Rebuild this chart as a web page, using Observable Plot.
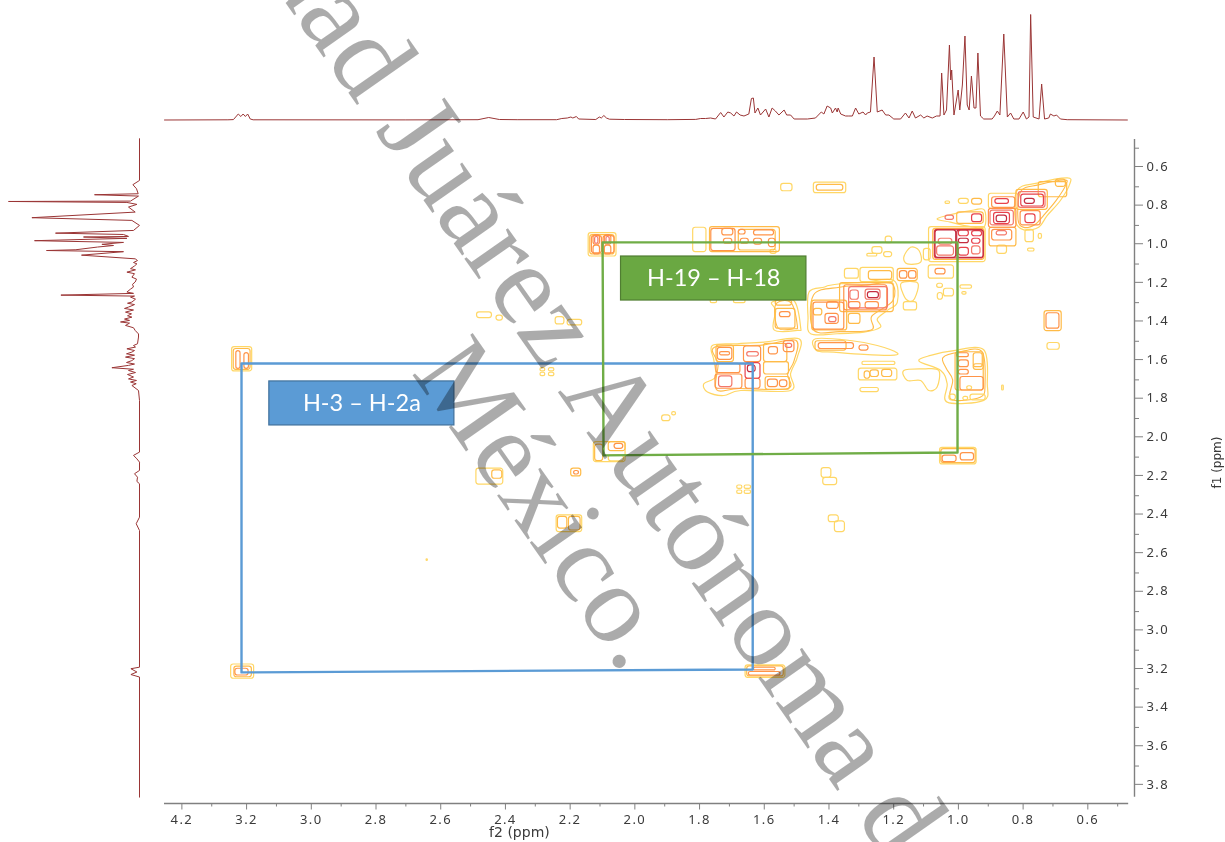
<!DOCTYPE html>
<html><head><meta charset="utf-8">
<script src="https://cdn.jsdelivr.net/npm/d3@7"></script>
<script src="https://cdn.jsdelivr.net/npm/@observablehq/plot@0.6"></script>
<style>
html,body{margin:0;padding:0;background:#fff;overflow:hidden}
#chart{position:relative;width:1225px;height:842px}
#chart svg{position:absolute;left:0;top:0;filter:blur(.35px)}
g[aria-label$="tick label"] text{letter-spacing:1.4px}
</style></head><body><div id="chart"></div>
<script>
// Axis domains (ppm)
const f2Domain=[3.446,0.448], f1Domain=[0.455,3.894];
const f2TickValues=[3.4,3.2,3.0,2.8,2.6,2.4,2.2,2.0,1.8,1.6,1.4,1.2,1.0,0.8,0.6];
const f2TickLabels=["4.2","3.2","3.0","2.8","2.6","2.4","2.2","2.0","1.8","1.6","1.4","1.2","1.0","0.8","0.6"];
const f2MinorTicks=[3.3,3.1,2.9,2.7,2.5,2.3,2.1,1.9,1.7,1.5,1.3,1.1,0.9,0.7,0.5];
const f1TickValues=[0.6,0.8,1.0,1.2,1.4,1.6,1.8,2.0,2.2,2.4,2.6,2.8,3.0,3.2,3.4,3.6,3.8];
const f1MinorTicks=[0.5,0.7,0.9,1.1,1.3,1.5,1.7,1.9,2.1,2.3,2.5,2.7,2.9,3.1,3.3,3.5,3.7];

// Horizontal 1H projection: [ppm, intensity]
const f2Spectrum=[[3.446,0],[3.25,0.2],[3.233,0.4],[3.218,6],[3.21,3.5],[3.203,6],[3.196,3.5],[3.189,6],[3.181,1],[3.172,0.2],[2.7,0.1],[2.477,0.3],[2.444,2.5],[2.411,0.5],[2.356,0.3],[2.234,0.3],[2.218,1.5],[2.201,2],[2.19,3],[2.184,2],[2.173,3.5],[2.166,1],[2.113,0.5],[2.102,3],[2.096,2],[2.088,4.5],[2.08,2],[2.071,0.8],[2.024,0.5],[1.892,0.3],[1.804,0.6],[1.789,1.5],[1.774,1.5],[1.758,2],[1.743,1],[1.727,7.5],[1.717,3],[1.705,8],[1.696,7],[1.686,4],[1.678,8],[1.667,5],[1.655,4],[1.64,6],[1.632,21.5],[1.626,22],[1.621,7],[1.612,12],[1.604,5],[1.588,11],[1.578,3],[1.568,12],[1.558,9],[1.547,5],[1.531,10],[1.523,5],[1.511,5],[1.5,1],[1.459,1],[1.434,2],[1.416,8],[1.408,6],[1.398,14],[1.387,12],[1.382,7],[1.372,12],[1.367,8],[1.364,12],[1.356,6],[1.341,4],[1.331,4],[1.32,4],[1.31,12],[1.3,6],[1.287,8],[1.279,5],[1.274,7],[1.264,8],[1.253,63],[1.243,8],[1.228,10],[1.217,5],[1.207,5],[1.192,1],[1.171,1],[1.156,7],[1.145,2],[1.135,9],[1.125,2],[1.109,5],[1.099,2],[1.089,4],[1.073,2],[1.06,4],[1.049,4],[1.044,47],[1.037,5],[1.029,10],[1.02,75],[1.016,40],[1.013,50],[1.006,5],[0.993,30],[0.988,10],[0.98,35],[0.972,84],[0.965,15],[0.959,10],[0.952,44],[0.944,12],[0.938,12],[0.932,67],[0.924,4],[0.914,1],[0.888,1],[0.881,4],[0.872,9],[0.864,5],[0.852,86],[0.841,3],[0.831,7],[0.821,1],[0.805,1],[0.792,8],[0.782,1],[0.774,3],[0.769,105.5],[0.761,3],[0.743,1],[0.735,36],[0.726,1],[0.713,2],[0.708,6],[0.697,4],[0.689,5],[0.677,1],[0.656,0.3],[0.47,0]];

// Vertical 1H projection: [ppm, intensity]
const f1Spectrum=[[0.451,0],[0.667,0],[0.689,6.6],[0.71,3],[0.736,1.3],[0.741,45],[0.748,1],[0.774,9],[0.776,131],[0.781,12.6],[0.791,2.6],[0.805,11],[0.831,4.3],[0.86,107.6],[0.874,7.6],[0.9,0],[0.926,6],[0.94,84],[0.947,16],[0.957,11],[0.96,56],[0.967,12.6],[0.979,105],[0.988,16],[0.998,37.6],[1.004,26],[1.012,42],[1.026,63.6],[1.03,93],[1.036,16],[1.054,58],[1.073,4.3],[1.082,2],[1.092,6],[1.099,2.6],[1.11,5],[1.124,9],[1.13,4],[1.142,12.6],[1.15,5],[1.168,7.6],[1.178,3],[1.193,4.3],[1.205,7],[1.219,6],[1.23,9],[1.245,12.6],[1.252,6],[1.261,78.6],[1.266,5],[1.271,9],[1.282,4],[1.297,7.6],[1.303,12],[1.31,5],[1.323,11],[1.33,15],[1.338,6],[1.349,14],[1.358,8],[1.368,12],[1.375,7.6],[1.385,15],[1.392,10],[1.4,19],[1.406,10],[1.418,14],[1.43,6],[1.444,4.3],[1.462,1],[1.478,1],[1.513,2],[1.522,6],[1.53,4],[1.539,12.6],[1.548,5],[1.556,7.6],[1.565,13],[1.572,5],[1.582,14],[1.59,5],[1.6,7.6],[1.61,13],[1.618,5],[1.625,11],[1.637,27.6],[1.645,6],[1.651,11],[1.662,4],[1.672,12],[1.685,6],[1.695,11],[1.703,3],[1.711,9],[1.72,3.3],[1.729,7.6],[1.755,1],[1.807,0],[2.074,0],[2.091,6],[2.109,2.6],[2.126,0],[2.169,0],[2.186,5],[2.204,2],[2.226,2.6],[2.238,0],[2.411,0],[2.445,3.3],[2.48,0],[3.188,0],[3.196,8.6],[3.213,2.6],[3.226,8.6],[3.239,0],[3.861,0]];

// Contour outlines: closed polygons, [ppm f2, ppm f1]
const yellowOutlines=[
[[.811,.719],[.749,.681],[.656,.654],[.648,.685],[.677,.771],[.718,.849],[.744,.909],[.79,.923],[.816,.875]],
[[1.058,.866],[1.006,.84],[.944,.82],[.912,.82],[.912,.906],[.955,.906],[1.017,.883]],
[[1.454,1.245],[1.408,1.22],[1.393,1.211],[1.356,1.202],[1.284,1.194],[1.192,1.185],[1.181,1.297],[1.212,1.34],[1.243,1.384],[1.233,1.427],[1.284,1.453],[1.367,1.461],[1.449,1.461],[1.457,1.375]],
[[1.434,1.487],[1.326,1.496],[1.243,1.522],[1.181,1.561],[1.202,1.573],[1.284,1.568],[1.377,1.556],[1.431,1.548]],
[[1.161,1.651],[1.099,1.643],[1.053,1.651],[1.058,1.737],[1.084,1.755],[1.109,1.703],[1.15,1.703]],
[[1.078,1.573],[1.006,1.548],[.914,1.544],[.903,1.72],[.914,1.806],[1.027,1.815],[1.027,1.72],[1.047,1.651],[1.114,1.603]],
[[1.753,1.522],[1.676,1.513],[1.593,1.504],[1.485,1.487],[1.49,1.582],[1.511,1.668],[1.511,1.755],[1.665,1.755],[1.717,1.781],[1.768,1.763],[1.779,1.72],[1.743,1.685],[1.748,1.599]],
[[1.568,1.297],[1.501,1.289],[1.48,1.427],[1.49,1.444],[1.562,1.441],[1.557,1.341]],
[[1.169,1.199],[1.118,1.199],[1.128,1.28],[1.145,1.292],[1.161,1.263]],
[[1.161,1.064],[1.14,1.013],[1.114,1.03],[1.109,1.09],[1.15,1.099]]
];
const amberOutlines=[
[[1.44,1.26],[1.36,1.22],[1.28,1.21],[1.2,1.2],[1.195,1.29],[1.26,1.37],[1.26,1.44],[1.36,1.45],[1.44,1.44]],
[[1.745,1.53],[1.6,1.52],[1.495,1.495],[1.5,1.6],[1.52,1.67],[1.52,1.745],[1.67,1.745],[1.74,1.75],[1.735,1.62]],
[[.8,.725],[.745,.69],[.665,.665],[.66,.69],[.69,.77],[.73,.85],[.755,.895],[.79,.91],[.808,.87]],
[[1.04,1.585],[.99,1.556],[.92,1.552],[.91,1.72],[.925,1.79],[1.015,1.8],[1.01,1.7],[1.03,1.64]],
[[1.557,1.31],[1.51,1.3],[1.49,1.42],[1.5,1.435],[1.55,1.43]]
];

// Contour boxes per level: [f2 left, f2 right, f1 top, f1 bottom]
const yellowBoxes=[
[1.54,1.505,.685,.723],[1.439,1.339,.678,.733],[1.083,.908,.909,1.09],[.872,.842,1.004,1.047],[.898,.806,.736,.814],
[.991,.96,.762,.788],[.785,.759,.923,.987],[.777,.757,1.02,1.035],[.744,.734,.944,.97],[1.032,1.018,.776,.788],
[1.343,1.3,1.125,1.176],[1.295,1.192,1.12,1.194],[1.084,1.006,1.107,1.176],[1.161,1.12,1.297,1.34],[1.058,1.04,1.202,1.223],[1.037,1.006,1.228,1.268],[.986,.95,1.211,1.228],[1.056,1.04,1.25,1.285],[.98,.967,1.245,1.258],
[1.217,1.197,.958,.992],[1.258,1.227,1.012,1.047],[1.222,1.197,1.038,1.064],[1.274,1.243,1.047,1.061],[1.099,1.078,1.021,1.081],
[1.289,1.187,1.606,1.623],[1.3,1.181,1.642,1.703],[1.295,1.238,1.742,1.763],[.965,.95,1.733,1.752],
[.977,.962,1.788,1.806],[1.02,1.0,1.776,1.806],[.955,.908,1.776,1.806],
[1.812,1.771,.912,1.038],[1.573,1.554,1.026,1.047],[1.758,1.738,1.285,1.302],[1.686,1.65,1.285,1.302],
[.717,.679,1.509,1.544],[1.049,.936,2.052,2.138],[.857,.852,1.729,1.755],
[2.48,2.434,1.35,1.38],[2.42,2.40,1.367,1.393],[2.237,2.21,1.375,1.413],[2.20,2.155,1.389,1.418],
[2.284,2.269,1.639,1.656],[2.258,2.241,1.639,1.656],[2.284,2.269,1.663,1.681],[2.258,2.241,1.663,1.681],
[1.908,1.882,1.884,1.914],[1.877,1.865,1.867,1.884],[2.119,2.021,2.022,2.126],[2.073,2.026,2.091,2.122],
[2.482,2.399,2.16,2.242],[2.234,2.155,2.402,2.488],[1.676,1.66,2.247,2.264],[1.653,1.633,2.247,2.264],[1.676,1.66,2.273,2.29],[1.653,1.633,2.273,2.29],
[1.415,1.385,2.157,2.207],[1.41,1.367,2.207,2.245],[1.393,1.362,2.402,2.437],[1.374,1.343,2.433,2.488],
[3.24,3.169,3.174,3.248],[3.237,3.175,1.53,1.656],[1.65,1.527,3.179,3.243],[2.636,2.632,2.63,2.637],[2.135,2.049,.94,1.061]
];
const amberBoxes=[
[1.43,1.348,.69,.72],[1.07,.912,.918,1.078],[.896,.813,.912,1.009],[.813,.716,.716,.819],[.744,.656,.676,.754],[.691,.66,.663,.7],[.95,.919,.762,.792],[.996,.914,.832,.892],
[1.18,1.118,1.125,1.188],[1.269,1.197,1.137,1.182],[1.358,1.192,1.199,1.349],[1.444,1.336,1.289,1.444],[1.331,1.295,1.358,1.41],[1.439,1.413,1.332,1.366],[1.557,1.496,1.332,1.435],[1.557,1.506,1.289,1.315],
[1.434,1.338,1.5,1.548],[1.282,1.265,1.656,1.694],[1.264,1.238,1.651,1.685],[1.228,1.197,1.648,1.685],
[1.001,.914,1.557,1.755],[.945,.914,1.619,1.648],[.945,.917,1.562,1.634],
[1.74,1.686,1.522,1.608],[1.593,1.521,1.513,1.608],[1.593,1.516,1.608,1.672],[1.588,1.513,1.685,1.751],
[1.76,1.544,.909,1.038],[1.671,1.557,.923,1.03],[.726,.673,1.344,1.447],
[1.045,.939,2.059,2.131],[2.433,2.402,2.169,2.212],[2.189,2.158,2.16,2.2],[2.23,2.201,2.41,2.47],[2.196,2.16,2.41,2.48],[2.073,2.021,2.022,2.069],[2.115,2.09,2.035,2.12],
[3.23,3.176,3.185,3.24],[3.232,3.18,1.54,1.648],[1.645,1.532,3.184,3.236],[2.13,2.055,.95,1.05]
];
const orangeBoxes=[
[.898,.813,.814,.912],[.888,.826,.923,.978],[.888,.816,.754,.809],[.8,.738,.826,.9],[1.173,1.15,1.137,1.176],[1.145,1.122,1.137,1.176],[1.063,1.032,1.125,1.154],
[1.345,1.212,1.21,1.34],[1.403,1.362,1.358,1.41],[1.398,1.362,1.297,1.332],[1.331,1.295,1.297,1.332],[1.279,1.238,1.297,1.332],[1.544,1.511,1.349,1.375],[1.44,1.345,1.3,1.44],
[1.424,1.315,1.51,1.54],[1.298,1.27,1.522,1.548],
[.996,.96,1.562,1.582],[.991,.96,1.599,1.634],[.991,.96,1.648,1.672],[.986,.914,1.685,1.755],
[1.736,1.691,1.534,1.596],[1.729,1.698,1.556,1.573],[1.655,1.602,1.527,1.608],[1.532,1.499,1.499,1.556],[1.578,1.55,1.53,1.568],
[1.74,1.666,1.617,1.665],[1.743,1.66,1.672,1.746],[1.581,1.55,1.699,1.737],[1.544,1.521,1.703,1.737],[1.65,1.604,1.694,1.746],
[1.756,1.681,.918,1.033],[1.722,1.688,.918,.952],[1.717,1.691,.969,.995],[1.671,1.65,.923,.947],[1.624,1.562,.926,.952],[1.665,1.64,.969,.995],[1.624,1.599,.969,.999],[1.578,1.557,.969,1.012],
[.72,.68,1.355,1.435],[1.041,.998,2.092,2.126],[.985,.944,2.079,2.117],[2.055,2.028,2.031,2.057],[2.18,2.165,2.172,2.19],
[3.227,3.186,3.196,3.231],[3.224,3.211,1.551,1.643],[3.199,3.185,1.561,1.643],[1.64,1.542,3.213,3.231],[1.624,1.557,3.191,3.205],[2.125,2.094,.955,1.045],[2.089,2.055,.955,1.045],
[2.12,2.10,.95,1.0],[2.12,2.1,1.005,1.05],[2.085,2.065,.95,1.0],[2.085,2.065,1.005,1.05]
];
const salmonBoxes=[
[1.058,1.006,1.009,1.056],[1.053,1.011,.969,.999],[.95,.924,1.009,1.05],[.893,.821,.823,.9],[.874,.842,.93,.952],[.806,.723,.728,.809],[1.032,1.006,.849,.871],
[1.326,1.30,1.237,1.285],[1.392,1.369,1.375,1.401],[1.279,1.233,1.233,1.285],[1.33,1.21,1.22,1.33],
[1.645,1.609,1.556,1.579],[1.526,1.506,1.513,1.534],[1.732,1.691,1.682,1.737],[2.115,2.105,.96,.995],[2.08,2.07,.96,.995]
];
const redBoxes=[
[1.065,.914,.923,1.071],[.991,.96,.926,.956],[.95,.919,.93,.956],[.95,.924,.969,.995],[.991,.96,1.016,1.056],
[.878,.836,.764,.788],[.798,.728,.74,.802],[.785,.754,.843,.888],[.95,.919,.843,.883],[.882,.833,.835,.893],[1.65,1.604,1.613,1.694]
];
const darkBoxes=[
[1.063,.999,.926,1.068],[.996,.914,.926,1.068],[.991,.96,.969,.992],[.874,.842,.849,.883],[.787,.756,.762,.788],[1.272,1.238,1.245,1.277],[1.643,1.619,1.625,1.66]
];
const levels=[["#ffd766",yellowBoxes],["#ffbb48",amberBoxes],["#ff9448",orangeBoxes],["#f4786a",salmonBoxes],["#e8424c",redBoxes],["#c42c40",darkBoxes]];
const contourBoxes=levels.flatMap(([color,boxes])=>boxes.map(b=>({color,b})));

// Annotated correlation paths and their label boxes
const bluePath=[[3.208,1.615],[1.628,1.615],[1.628,3.2],[3.208,3.215],[3.208,1.615]];
const greenPath=[[2.092,.988],[.995,.988],[.995,2.076],[2.089,2.091],[2.092,.988]];
const labels=[
 {text:"H-3 – H-2a",x1:3.122,x2:2.55,y1:1.708,y2:1.936,fill:"#5b9bd5",stroke:"#41719c"},
 {text:"H-19 – H-18",x1:2.035,x2:1.462,y1:1.061,y2:1.289,fill:"#6aa842",stroke:"#507e32"}
];
const watermark=[
 {text:"Universidad Juárez Autónoma de",x:2.392,y:1.04,size:116},
 {text:"México.",x:2.266,y:2.34,size:112}
];
const axisColor="#808080", textColor="#3a3a3a", specColor="#9a3535";

const xOpt={domain:f2Domain}, yOpt={domain:f1Domain,range:[139,803]};
const frame={width:1225,height:842,marginLeft:164,marginRight:91,marginTop:139,marginBottom:39,style:{background:"transparent"}};
const chart=document.getElementById("chart");

// Top spectrum
chart.append(Plot.plot({...frame,x:{...xOpt,axis:null},y:{domain:[0,105.5],range:[119.5,14],axis:null},
 marks:[Plot.line(f2Spectrum,{x:d=>d[0],y:d=>d[1],stroke:specColor,strokeWidth:1})]}));
// Left spectrum
chart.append(Plot.plot({...frame,x:{domain:[0,131],range:[139,8],axis:null},y:{...yOpt,axis:null},
 marks:[Plot.line(f1Spectrum,{x:d=>d[1],y:d=>d[0],stroke:specColor,strokeWidth:1})]}));
// Main panel
chart.append(Plot.plot({...frame,x:xOpt,y:yOpt,marks:[
 Plot.ruleY([f1Domain[1]],{x1:3.446,x2:.466,stroke:axisColor,strokeWidth:1.4}),
 Plot.ruleX([f2Domain[1]],{y1:.455,y2:3.862,stroke:axisColor,strokeWidth:1.4}),
 Plot.axisX(f2MinorTicks,{anchor:"bottom",tickSize:3.5,tickFormat:()=>"",label:null,stroke:axisColor}),
 Plot.axisX(f2TickValues,{anchor:"bottom",tickSize:6.5,tickPadding:5,dx:2.5,label:null,stroke:axisColor,fill:textColor,fontSize:13,
   tickFormat:d=>f2TickLabels[f2TickValues.indexOf(d)]}),
 Plot.axisY(f1MinorTicks,{anchor:"right",tickSize:4,tickFormat:()=>"",label:null,stroke:axisColor}),
 Plot.axisY(f1TickValues,{anchor:"right",tickSize:8,tickPadding:4,dy:-1,label:null,stroke:axisColor,fill:textColor,fontSize:13,tickFormat:d=>d.toFixed(1)}),
 Plot.text(["f2 (ppm)"],{x:2.349,y:4.045,text:d=>d,fontSize:14,fontFamily:"DejaVu Sans",fill:textColor}),
 Plot.text(["f1 (ppm)"],{x:.194,y:2.128,text:d=>d,rotate:-90,fontSize:12,fontFamily:"DejaVu Sans",fill:textColor}),
 ...yellowOutlines.map(o=>Plot.line(o,{x:d=>d[0],y:d=>d[1],curve:"cardinal-closed",stroke:"#ffd766",strokeWidth:1.2})),
 ...amberOutlines.map(o=>Plot.line(o,{x:d=>d[0],y:d=>d[1],curve:"cardinal-closed",stroke:"#ffbb48",strokeWidth:1.1})),
 Plot.rect(contourBoxes,{x1:d=>d.b[0],x2:d=>d.b[1],y1:d=>d.b[2],y2:d=>d.b[3],stroke:d=>d.color,fill:"none",strokeWidth:1.2,r:2.5}),
 Plot.line(bluePath,{x:d=>d[0],y:d=>d[1],stroke:"#5b9bd5",strokeWidth:2.4}),
 Plot.line(greenPath,{x:d=>d[0],y:d=>d[1],stroke:"#70ad47",strokeWidth:2.4}),
 Plot.rect(labels,{x1:"x1",x2:"x2",y1:"y1",y2:"y2",fill:"fill",stroke:"stroke",strokeWidth:1.2}),
 Plot.text(labels,{x:d=>(d.x1+d.x2)/2,y:d=>(d.y1+d.y2)/2,text:"text",fill:"white",fontSize:23.5,fontFamily:"Lato"}),
 Plot.text(watermark,{x:"x",y:"y",text:"text",rotate:55,fontSize:"size",fontFamily:"Liberation Serif",fill:"#000",fillOpacity:.33})
]}));
</script></body></html>
